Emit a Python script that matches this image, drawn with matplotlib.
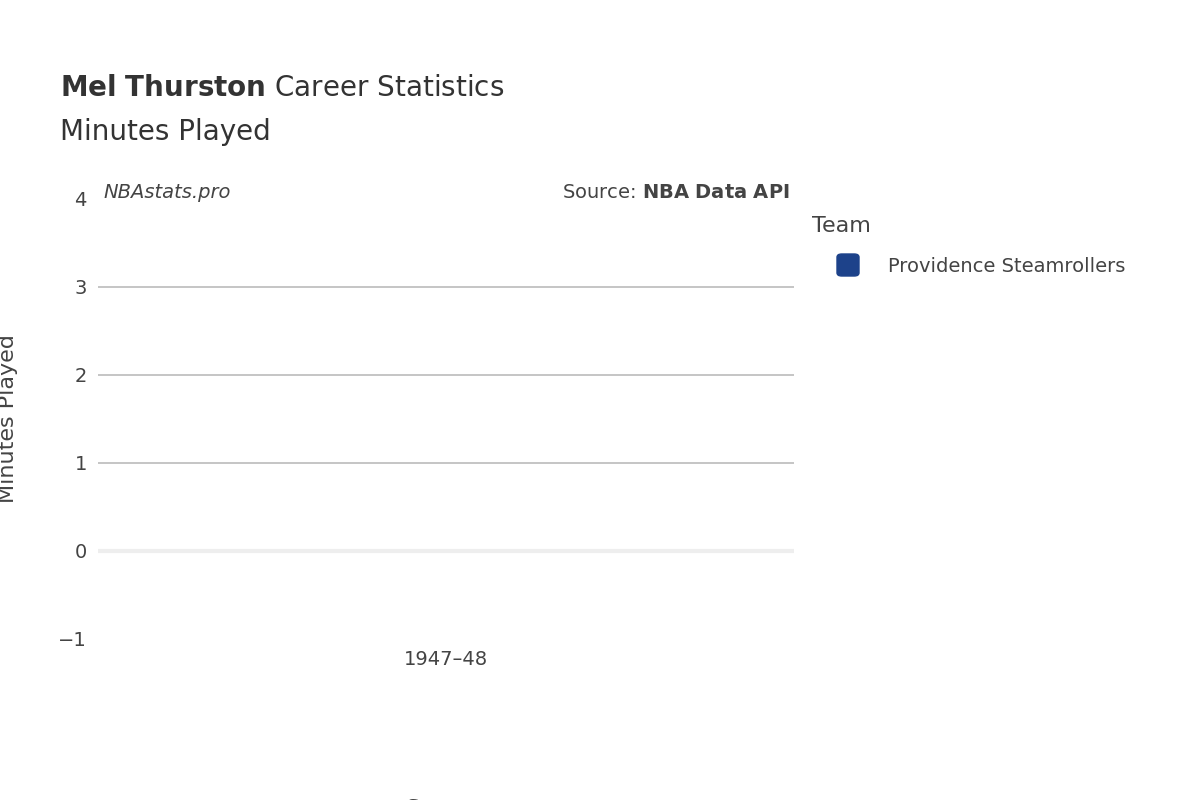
import matplotlib.pyplot as plt
from matplotlib.patches import FancyBboxPatch

seasons = ['1947\u201348']
minutes = [0]
team = 'Providence Steamrollers'
team_color = '#1d428a'
yticks = [-1, 0, 1, 2, 3, 4]

fig = plt.figure(figsize=(12, 8), dpi=100)
ax = fig.add_axes([98/1200, 161/800, 696/1200, 440/800])

ax.bar(range(len(seasons)), minutes, color=team_color, width=0.8)
ax.set_xlim(-0.5, len(seasons) - 0.5)
ax.set_ylim(-1, 4)
ax.set_xticks(range(len(seasons)))
ax.set_xticklabels(seasons, fontsize=14, color='#444444')
ax.set_yticks(yticks)
ax.set_yticklabels(['\u22121', '0', '1', '2', '3', '4'], fontsize=14, color='#444444')
ax.tick_params(length=0, pad=8)
for v in [1, 2, 3]:
    ax.axhline(v, color='#bbbbbb', lw=1.2, zorder=0)
ax.axhline(0, color='#eeeeee', lw=3, zorder=0)
for s in ax.spines.values():
    s.set_visible(False)

ax.set_xlabel('Season', fontsize=16, color='#444444')
ax.xaxis.set_label_coords(0.5, -160/440)
ax.set_ylabel('Minutes Played', fontsize=16, color='#444444')
ax.yaxis.set_label_coords(-80/696, 0.5)

fig.text(60/1200, 1 - 88/800, r'$\bf{Mel\ Thurston}$ Career Statistics', fontsize=20,
         color='#333333', va='center')
fig.text(60/1200, 1 - 132/800, 'Minutes Played', fontsize=20, color='#333333', va='center')
fig.text(103/1200, 1 - 192/800, 'NBAstats.pro', fontsize=14, style='italic',
         color='#444444', va='center')
fig.text(790/1200, 1 - 192/800, r'Source: $\bf{NBA\ Data\ API}$', fontsize=14,
         color='#444444', va='center', ha='right')

fig.text(812/1200, 1 - 226/800, 'Team', fontsize=16, color='#444444', va='center')
fig.patches.append(FancyBboxPatch((837/1200, 1 - 276/800), 22/1200, 22/800,
                                  boxstyle='round,pad=0,rounding_size=0.004',
                                  transform=fig.transFigure, color=team_color))
fig.text(888/1200, 1 - 266/800, team, fontsize=14, color='#444444', va='center')

fig.savefig('out.png')
